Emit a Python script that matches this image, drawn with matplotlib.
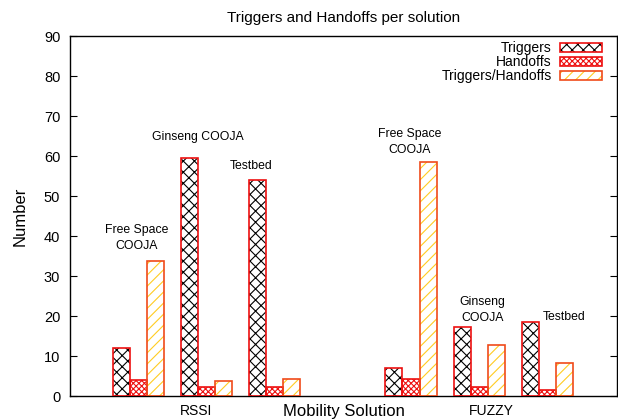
import matplotlib
matplotlib.use("Agg")
import matplotlib.pyplot as plt
from matplotlib.patches import Patch
import numpy as np

plt.rcParams['font.family'] = ['Liberation Sans', 'DejaVu Sans']
plt.rcParams['hatch.linewidth'] = 0.8

# data
solutions = ["RSSI", "FUZZY"]
scenarios = ["Free Space\nCOOJA", "Ginseng COOJA", "Testbed"]
triggers = [12, 59.5, 54, 7, 17.2, 18.5]
handoffs = [4, 2.2, 2.2, 4.2, 2.2, 1.5]
ratio = [33.7, 3.7, 4.2, 58.5, 12.7, 8.2]

# left edge of each cluster, in bar widths
starts = np.array([0, 4, 8, 16, 20, 24])

fig = plt.figure(figsize=(6.18, 4.2), dpi=100)
ax = fig.add_axes([70 / 618, 24 / 420, 547 / 618, 360 / 420])

red = "#ee1111"
orange = "#f04a1a"
yellow = "#ffcc22"

x = starts + 0.5
# triggers: black cross hatch, red frame
ax.bar(x, triggers, 1.0, color="white", edgecolor="black", hatch="xxx", linewidth=0, zorder=2)
ax.bar(x, triggers, 1.0, fill=False, edgecolor=red, linewidth=1.2, zorder=3)
# handoffs: dense red cross hatch
ax.bar(x + 1, handoffs, 1.0, color="white", edgecolor=red, hatch="xxxxxx", linewidth=0, zorder=2)
ax.bar(x + 1, handoffs, 1.0, fill=False, edgecolor=red, linewidth=1.2, zorder=3)
# triggers/handoffs: yellow diagonal
ax.bar(x + 2, ratio, 1.0, color="white", edgecolor=yellow, hatch="///", linewidth=0, zorder=2)
ax.bar(x + 2, ratio, 1.0, fill=False, edgecolor=orange, linewidth=1.2, zorder=3)

ax.set_xlim(-2.53, 29.6)
ax.set_ylim(0, 90)
ax.set_yticks(range(0, 91, 10))
ax.tick_params(axis="y", direction="in", right=True, length=5, labelsize=10.5, pad=7)
ax.set_xticks([4.9, 22.2])
ax.set_xticklabels(solutions, fontsize=10)
ax.tick_params(axis="x", length=0, pad=6)
for s in ax.spines.values():
    s.set_linewidth(1.0)

ax.set_title("Triggers and Handoffs per solution", fontsize=11, pad=10)
ax.set_ylabel("Number", fontsize=12, labelpad=12)
ax.set_xlabel("Mobility Solution", fontsize=12, labelpad=-10)

# scenario labels
fs = 8.8
ax.text(1.4, 39.5, "Free Space\nCOOJA", ha="center", va="center", fontsize=fs, linespacing=1.5)
ax.text(5.0, 64.8, "Ginseng COOJA", ha="center", va="center", fontsize=fs)
ax.text(8.1, 57.5, "Testbed", ha="center", va="center", fontsize=fs)
ax.text(17.4, 63.5, "Free Space\nCOOJA", ha="center", va="center", fontsize=fs, linespacing=1.5)
ax.text(21.7, 21.5, "Ginseng\nCOOJA", ha="center", va="center", fontsize=fs, linespacing=1.5)
ax.text(26.5, 19.7, "Testbed", ha="center", va="center", fontsize=fs)

# legend
h1 = (Patch(facecolor="white", edgecolor="black", hatch="xxx", linewidth=0),
      Patch(fill=False, edgecolor=red, linewidth=1.2))
h2 = (Patch(facecolor="white", edgecolor=red, hatch="xxxxxx", linewidth=0),
      Patch(fill=False, edgecolor=red, linewidth=1.2))
h3 = (Patch(facecolor="white", edgecolor=yellow, hatch="///", linewidth=0),
      Patch(fill=False, edgecolor=orange, linewidth=1.2))
ax.legend([h1, h2, h3], ["Triggers", "Handoffs", "Triggers/Handoffs"],
          loc="upper right", bbox_to_anchor=(0.99, 1.012), frameon=False,
          markerfirst=False, handlelength=3.0, handleheight=0.65,
          labelspacing=0.0, handletextpad=0.6, fontsize=10, borderpad=0.2)

fig.savefig("out.png", dpi=100)
